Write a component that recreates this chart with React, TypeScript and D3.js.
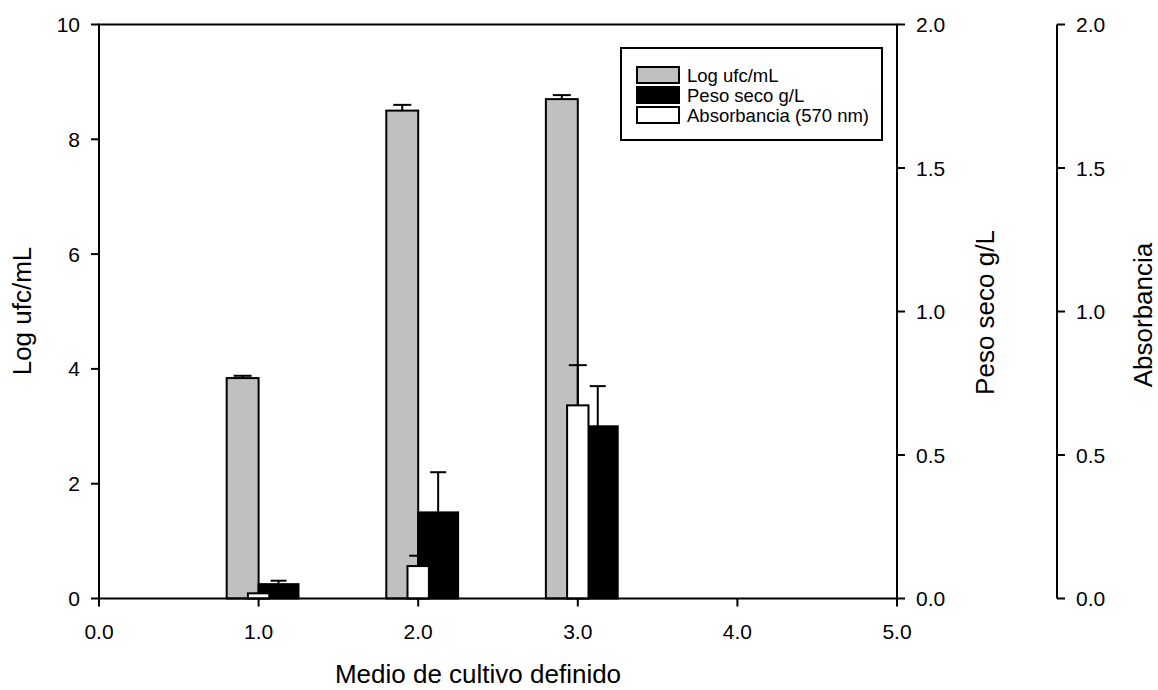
import * as d3 from 'd3';
import { useEffect, useRef } from 'react';

const categories = [1, 2, 3];
const logUfc = [3.84, 8.5, 8.7];
const logUfcErr = [0.04, 0.1, 0.07];
const pesoSeco = [0.05, 0.3, 0.6];
const pesoSecoErr = [0.012, 0.14, 0.14];
const absorbancia = [0.018, 0.113, 0.673];
const absorbanciaErr = [0, 0.036, 0.14];

const xTicks = [0, 1, 2, 3, 4, 5];
const leftTicks = [0, 2, 4, 6, 8, 10];
const rightTicks = [0, 0.5, 1, 1.5, 2];

const legendItems = [
  { label: 'Log ufc/mL', fill: '#c0c0c0' },
  { label: 'Peso seco g/L', fill: '#000000' },
  { label: 'Absorbancia (570 nm)', fill: '#ffffff' },
];

export default function App() {
  const w = 1158;
  const h = 690;
  const svgRef = useRef<SVGSVGElement>(null);

  useEffect(() => {
    if (svgRef.current == null) {
      return;
    }
    const svg = d3.select(svgRef.current);
    svg.selectAll('*').remove();
    const font = '"Liberation Sans", Arial, sans-serif';

    const left = 99;
    const right = 897;
    const top = 24.5;
    const bottom = 598.5;
    const thirdAxisX = 1057;

    const xScale = d3.scaleLinear().domain([0, 5]).range([left, right]);
    const yLeft = d3.scaleLinear().domain([0, 10]).range([bottom, top]);
    const yPeso = d3.scaleLinear().domain([0, 2]).range([bottom, top]);
    const yAbs = d3.scaleLinear().domain([0, 2]).range([bottom, top]);

    // bars: gray, black, then white on top
    const drawBars = (
      values: number[],
      errors: number[],
      y: d3.ScaleLinear<number, number>,
      x0: number,
      x1: number,
      fill: string,
      capHalf: number
    ) => {
      categories.forEach((c, i) => {
        const xa = xScale(c + x0);
        const xb = xScale(c + x1);
        const yt = y(values[i]);
        const xm = (xa + xb) / 2;
        if (errors[i] > 0) {
          const ye = y(values[i] + errors[i]);
          svg.append('line').attr('x1', xm).attr('x2', xm).attr('y1', yt).attr('y2', ye)
            .attr('stroke', '#000').attr('stroke-width', 2);
          svg.append('line').attr('x1', xm - capHalf).attr('x2', xm + capHalf).attr('y1', ye).attr('y2', ye)
            .attr('stroke', '#000').attr('stroke-width', 2);
        }
        svg.append('rect')
          .attr('x', xa)
          .attr('y', yt)
          .attr('width', xb - xa)
          .attr('height', bottom - yt)
          .attr('fill', fill)
          .attr('stroke', '#000')
          .attr('stroke-width', 2);
      });
    };

    drawBars(logUfc, logUfcErr, yLeft, -0.2, 0, '#c0c0c0', 9);
    drawBars(pesoSeco, pesoSecoErr, yPeso, 0, 0.25, '#000000', 8);
    drawBars(absorbancia, absorbanciaErr, yAbs, -0.067, 0.067, '#ffffff', 9);

    // frame
    svg.append('path')
      .attr('d', `M${left},${bottom}V${top}H${right}V${bottom}H${left}`)
      .attr('fill', 'none')
      .attr('stroke', '#000')
      .attr('stroke-width', 2);

    // x axis
    for (const t of xTicks) {
      const x = xScale(t);
      svg.append('line').attr('x1', x).attr('x2', x).attr('y1', bottom).attr('y2', bottom + 8)
        .attr('stroke', '#000').attr('stroke-width', 2);
      svg.append('text').attr('x', x).attr('y', 639).attr('text-anchor', 'middle')
        .style('font', `21px ${font}`).text(d3.format('.1f')(t));
    }
    svg.append('text').attr('x', 478).attr('y', 683).attr('text-anchor', 'middle')
      .style('font', `26px ${font}`).text('Medio de cultivo definido');

    // left axis
    for (const t of leftTicks) {
      const y = yLeft(t);
      svg.append('line').attr('x1', left - 8).attr('x2', left).attr('y1', y).attr('y2', y)
        .attr('stroke', '#000').attr('stroke-width', 2);
      svg.append('text').attr('x', 80).attr('y', y + 7.5).attr('text-anchor', 'end')
        .style('font', `21px ${font}`).text(String(t));
    }
    svg.append('text').attr('transform', 'translate(31,311) rotate(-90)').attr('text-anchor', 'middle')
      .style('font', `26px ${font}`).text('Log ufc/mL');

    // right axis (peso seco)
    for (const t of rightTicks) {
      const y = yPeso(t);
      svg.append('line').attr('x1', right).attr('x2', right + 8).attr('y1', y).attr('y2', y)
        .attr('stroke', '#000').attr('stroke-width', 2);
      svg.append('text').attr('x', 916).attr('y', y + 7.5)
        .style('font', `21px ${font}`).text(d3.format('.1f')(t));
    }
    svg.append('text').attr('transform', 'translate(994,312.5) rotate(-90)').attr('text-anchor', 'middle')
      .style('font', `26px ${font}`).text('Peso seco g/L');

    // third axis (absorbancia)
    svg.append('line').attr('x1', thirdAxisX).attr('x2', thirdAxisX).attr('y1', top).attr('y2', bottom)
      .attr('stroke', '#000').attr('stroke-width', 2);
    for (const t of rightTicks) {
      const y = yAbs(t);
      svg.append('line').attr('x1', thirdAxisX).attr('x2', thirdAxisX + 8).attr('y1', y).attr('y2', y)
        .attr('stroke', '#000').attr('stroke-width', 2);
      svg.append('text').attr('x', 1076).attr('y', y + 7.5)
        .style('font', `21px ${font}`).text(d3.format('.1f')(t));
    }
    svg.append('text').attr('transform', 'translate(1152,315) rotate(-90)').attr('text-anchor', 'middle')
      .style('font', `26px ${font}`).text('Absorbancia');

    // legend
    svg.append('rect').attr('x', 621).attr('y', 48).attr('width', 261).attr('height', 92)
      .attr('fill', '#fff').attr('stroke', '#000').attr('stroke-width', 2);
    legendItems.forEach((item, i) => {
      const y0 = 67 + i * 20;
      svg.append('rect').attr('x', 637).attr('y', y0).attr('width', 42).attr('height', 16)
        .attr('fill', item.fill).attr('stroke', '#000').attr('stroke-width', 2);
      svg.append('text').attr('x', 687).attr('y', y0 + 15)
        .style('font', `18.5px ${font}`).text(item.label);
    });
  }, []);

  return (
    <svg
      ref={svgRef}
      width={w}
      height={h}
      style={{ position: 'absolute', left: 0, top: 0, background: '#fff' }}
    ></svg>
  );
}
